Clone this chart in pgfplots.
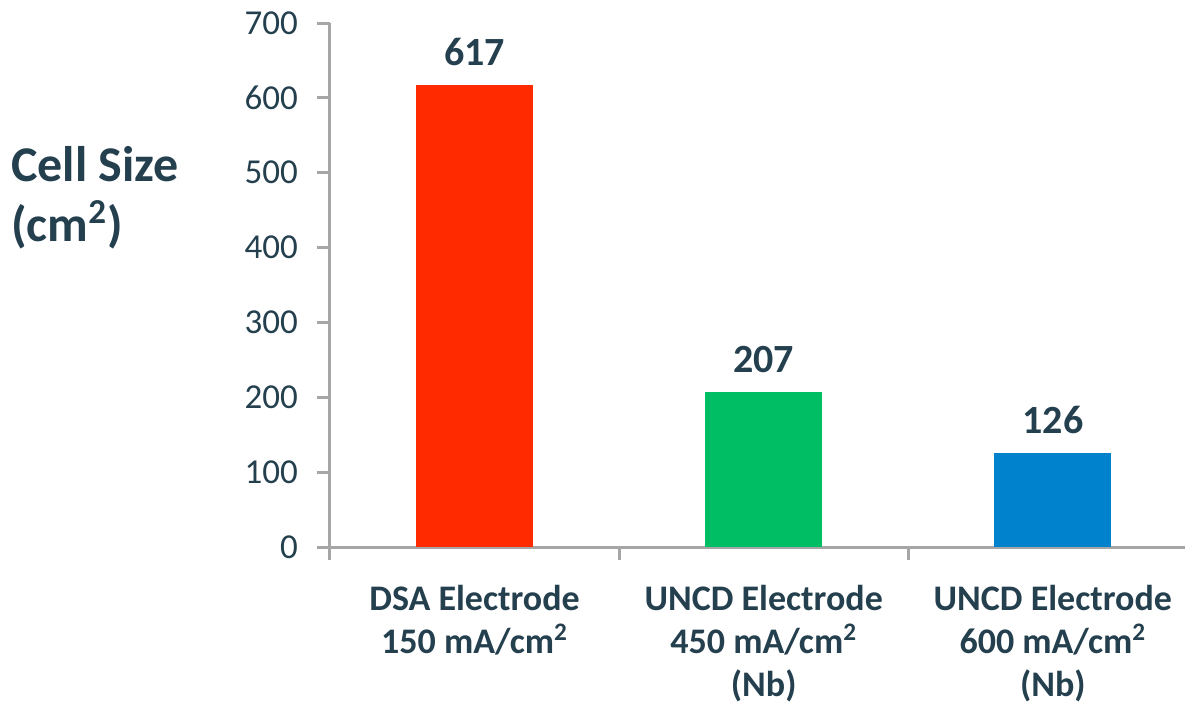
\documentclass[border=0pt]{standalone}
\usepackage{pgfplots}
\pgfplotsset{compat=1.18}
\usepackage{fontspec}
\setmainfont{Carlito}
\definecolor{txt}{HTML}{243F4E}
\definecolor{axgray}{HTML}{A6A6A6}
\definecolor{cred}{HTML}{FF2A00}
\definecolor{cgreen}{HTML}{00BE64}
\definecolor{cblue}{HTML}{0082CD}
\begin{document}
\begin{tikzpicture}
\begin{axis}[
  scale only axis,
  width=427.5pt, height=262pt,
  xmin=-0.5, xmax=2.457,
  ymin=0, ymax=700,
  axis x line*=bottom, axis y line*=left,
  axis line style={axgray, line width=1.5pt, -},
  ytick={0,100,...,700},
  yticklabel style={font=\fontsize{17.5}{20}\selectfont, text=txt, xshift=-6pt},
  /pgf/number format/assume math mode=true,
  xtick={-0.5,0.5,1.5},
  xticklabels={},
  major tick length=6.5pt,
  tick align=outside,
  tick style={axgray, line width=1.5pt},
  extra x ticks={0,1,2},
  extra x tick labels={{\textbf{DSA Electrode}\\\textbf{150 mA/cm\textsuperscript{2}}},
               {\textbf{UNCD Electrode}\\\textbf{450 mA/cm\textsuperscript{2}}\\\textbf{(Nb)}},
               {\textbf{UNCD Electrode}\\\textbf{600 mA/cm\textsuperscript{2}}\\\textbf{(Nb)}}},
  extra x tick style={major tick length=0pt, tick style={draw=none},
    xticklabel style={font=\fontsize{18}{21.5}\selectfont, text=txt, align=center, anchor=north, yshift=-15.5pt}},
  ybar, bar width=58.5pt,
  nodes near coords,
  nodes near coords style={font=\bfseries\fontsize{20}{24}\selectfont, text=txt, anchor=south, yshift=6pt},
  ylabel={\textbf{Cell Size}\\\textbf{(cm\textsuperscript{2})}},
  ylabel style={rotate=-90, anchor=west, align=left, font=\fontsize{25}{30}\selectfont, text=txt,
    at={(axis description cs:-0.381,0.666)}},
]
\addplot[fill=cred, draw=none, bar shift=0pt] coordinates {(0,617)};
\addplot[fill=cgreen, draw=none, bar shift=0pt] coordinates {(1,207)};
\addplot[fill=cblue, draw=none, bar shift=0pt] coordinates {(2,126)};
\end{axis}
\pgfresetboundingbox
\path[use as bounding box] (-165pt,-80pt) rectangle (427.5pt,273.5pt);
\end{tikzpicture}
\end{document}
